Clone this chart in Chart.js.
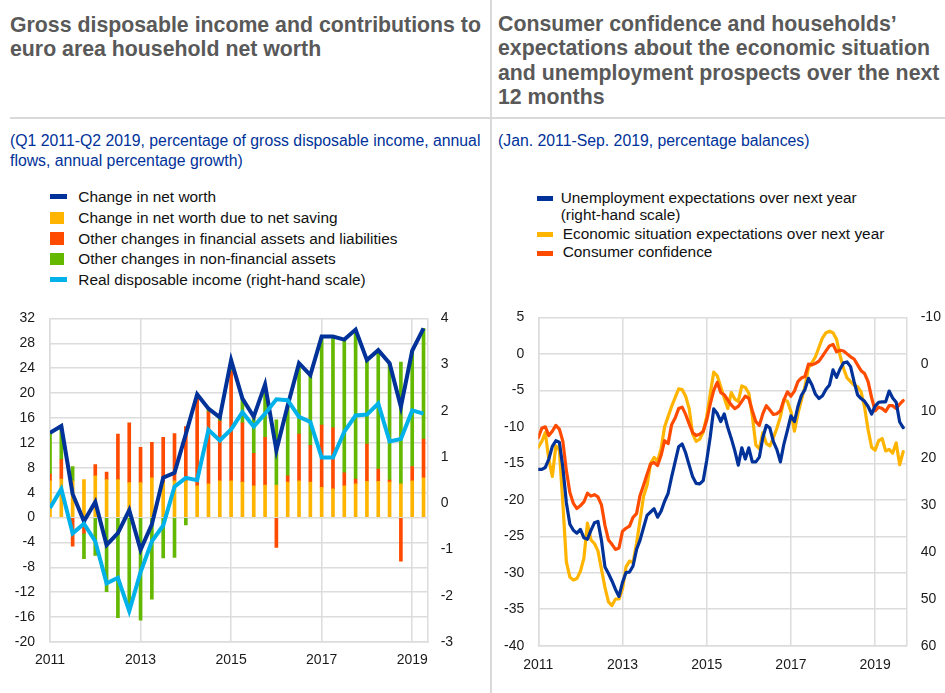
<!DOCTYPE html>
<html><head><meta charset="utf-8">
<script src="https://cdn.jsdelivr.net/npm/chart.js@4"></script>
<style>
html,body{margin:0;padding:0;background:#fff;width:945px;height:693px;overflow:hidden;font-family:"Liberation Sans",Arial,sans-serif;}
.abs{position:absolute;}
.title{font-weight:bold;font-size:21.3px;color:#595959;white-space:nowrap;}
.sub{font-size:15.8px;color:#003299;line-height:20px;white-space:nowrap;}
.leg{font-size:15.4px;color:#111;white-space:nowrap;line-height:20px;}
.mk{position:absolute;}
</style></head>
<body>
<div class="abs" style="left:490px;top:0;width:2px;height:693px;background:#d9d9d9"></div>
<div class="abs" style="left:10px;top:117px;width:480px;height:2px;background:#d9d9d9"></div>
<div class="abs" style="left:492px;top:117px;width:453px;height:2px;background:#d9d9d9"></div>

<div class="abs title" style="left:10px;top:14px;line-height:23.5px">Gross disposable income and contributions to<br>euro area household net worth</div>
<div class="abs title" style="left:498px;top:12px;line-height:24.4px">Consumer confidence and households’<br>expectations about the economic situation<br>and unemployment prospects over the next<br>12 months</div>

<div class="abs sub" style="left:10px;top:131px">(Q1 2011-Q2 2019, percentage of gross disposable income, annual<br>flows, annual percentage growth)</div>
<div class="abs sub" style="left:498px;top:131px">(Jan. 2011-Sep. 2019, percentage balances)</div>

<!-- left legend -->
<div class="mk" style="left:50px;top:194px;width:16.5px;height:5px;background:#003299"></div>
<div class="mk" style="left:50px;top:211.5px;width:14px;height:12.5px;background:#ffb400"></div>
<div class="mk" style="left:50px;top:232.3px;width:14px;height:12.5px;background:#ff4b00"></div>
<div class="mk" style="left:50px;top:252.8px;width:14px;height:12.5px;background:#65b800"></div>
<div class="mk" style="left:50px;top:276.5px;width:16.5px;height:5px;background:#00b1ea"></div>
<div class="abs leg" style="left:78.3px;top:186.5px">Change in net worth</div>
<div class="abs leg" style="left:78.3px;top:207.5px">Change in net worth due to net saving</div>
<div class="abs leg" style="left:78.3px;top:228.5px">Other changes in financial assets and liabilities</div>
<div class="abs leg" style="left:78.3px;top:249px">Other changes in non-financial assets</div>
<div class="abs leg" style="left:78.3px;top:269.5px">Real disposable income (right-hand scale)</div>

<!-- right legend -->
<div class="mk" style="left:536.7px;top:195.7px;width:16px;height:5px;background:#003299"></div>
<div class="mk" style="left:536.7px;top:232.3px;width:16.5px;height:5px;background:#ffb400"></div>
<div class="mk" style="left:536.7px;top:250.7px;width:16.5px;height:5px;background:#ff4b00"></div>
<div class="abs leg" style="left:560.7px;top:190px;line-height:16.7px">Unemployment expectations over next year<br>(right-hand scale)</div>
<div class="abs leg" style="left:562.7px;top:224px">Economic situation expectations over next year</div>
<div class="abs leg" style="left:562.7px;top:242px">Consumer confidence</div>

<canvas id="c1" class="abs" width="490" height="398" style="left:0;top:295px;width:490px;height:398px"></canvas>
<canvas id="c2" class="abs" width="455" height="398" style="left:490px;top:295px;width:455px;height:398px"></canvas>

<script>
// ---------- Left chart data (quarterly) ----------
const quarters = ['2011Q1','2011Q2','2011Q3','2011Q4','2012Q1','2012Q2','2012Q3','2012Q4',
  '2013Q1','2013Q2','2013Q3','2013Q4','2014Q1','2014Q2','2014Q3','2014Q4',
  '2015Q1','2015Q2','2015Q3','2015Q4','2016Q1','2016Q2','2016Q3','2016Q4',
  '2017Q1','2017Q2','2017Q3','2017Q4','2018Q1','2018Q2','2018Q3','2018Q4',
  '2019Q1','2019Q2'];
const netWorth = [13.6, 14.7, 3.8, -0.6, 2.5, -4.4, -2.5, 1.2, -5.2, -1.1, 6.4, 7.2, 13.4, 19.8, 17.5, 16.1,
  25.3, 19.1, 16.2, 21.4, 10.8, 18.0, 24.8, 22.9, 29.1, 29.1, 28.6, 30.2, 25.3, 26.9, 24.8, 17.8, 26.8, 30.4];
const netSaving = [5.9, 6.2, 5.9, 6.1, 6.7, 6.1, 6.1, 5.6, 5.6, 6.4, 5.6, 5.9, 5.9, 5.1, 5.4, 5.9,
  5.9, 5.7, 5.1, 5.2, 5.2, 5.7, 5.9, 5.7, 4.85, 4.6, 5.1, 5.4, 5.8, 5.8, 5.7, 5.4, 5.9, 6.4];
const otherFinancial = [1.1, 3.1, -4.6, -2.5, 1.8, 1.2, 7.3, 9.6, 5.7, 5.7, 7.3, 7.6, 8.7, 14.0, 11.6, 9.6,
  17.6, 9.5, 5.2, 7.7, -4.8, 1.0, 7.5, 5.9, 10.0, 9.8, 2.1, 0.8, 6.0, 2.0, 0.3, -7.0, 2.3, 6.2];
const nonFinancial = [6.6, 5.4, 2.3, -4.1, -6.1, -11.9, -16.1, -14.0, -16.5, -13.1, -6.5, -6.4, -1.2, 0.7, 0.5, 0.6,
  1.8, 3.9, 5.9, 8.2, 10.5, 11.3, 11.4, 11.3, 14.2, 14.6, 21.4, 24.0, 13.5, 19.1, 18.8, 19.6, 18.6, 17.8];
const realIncome = [-0.1, 0.31, -0.65, -0.44, -0.82, -1.73, -1.61, -2.33, -1.49, -0.82, -0.48, 0.36, 0.55, 0.5, 1.59, 1.36,
  1.6, 1.97, 1.66, 1.94, 2.25, 2.23, 1.87, 1.76, 0.99, 0.99, 1.55, 1.90, 1.92, 2.16, 1.34, 1.39, 2.01, 1.94];
const yearTicks = [2011, 2013, 2015, 2017, 2019];

// ---------- Right chart data (monthly, Jan 2011 - Sep 2019) ----------
const monthNames = ['Jan','Feb','Mar','Apr','May','Jun','Jul','Aug','Sep','Oct','Nov','Dec'];
const months = Array.from({length: 105}, (_, i) => monthNames[i % 12] + ' ' + (2011 + Math.floor(i / 12)));
const unemployment = [22.4, 22.4, 22.0, 20.2, 17.5, 16.3, 16.6, 22.0, 29.5, 34.1, 35.4, 36.0,
  35.2, 37.0, 37.3, 35.4, 33.8, 33.5, 37.5, 43.2, 44.6, 46.2, 48.0, 49.5,
  46.5, 44.4, 44.3, 43.0, 39.5, 37.5, 34.8, 32.2, 31.5, 30.8, 32.6, 31.3,
  29.2, 27.5, 24.0, 20.8, 17.6, 17.0, 18.9, 21.5, 24.0, 25.4, 25.5, 24.8,
  20.5, 15.5, 9.5, 10.5, 12.2, 10.6, 13.5, 15.8, 18.4, 21.5, 17.8, 20.2,
  17.8, 20.8, 20.8, 19.8, 15.6, 13.0, 13.6, 16.5, 18.2, 20.8, 17.0, 14.1,
  11.0, 12.2, 9.0, 6.6, 5.4, 3.0, 4.4, 6.4, 7.3, 6.7, 5.3, 4.4,
  1.2, 2.8, 1.0, -0.3, -0.5, 0.5, 3.7, 6.5, 7.3, 7.9, 9.0, 10.6,
  8.9, 8.1, 8.0, 8.0, 5.7, 7.2, 8.1, 12.3, 13.5];
const economicSituation = [-12.8, -12.0, -10.8, -14.5, -16.8, -12.6, -13.2, -20.5, -28.5, -30.6, -31.0, -30.8,
  -29.8, -28.0, -23.2, -25.5, -26.0, -27.0, -29.5, -32.0, -34.0, -34.5, -33.6, -33.6,
  -32.2, -29.2, -28.4, -28.6, -26.0, -22.8, -19.5, -18.0, -15.0, -14.2, -14.7, -13.0,
  -10.0, -8.6, -7.2, -6.0, -4.8, -4.9, -5.8, -7.5, -11.0, -12.0, -11.7, -10.7,
  -8.6, -5.5, -2.5, -3.0, -4.5, -6.0, -7.5, -5.3, -6.2, -6.5, -4.4, -4.6,
  -5.4, -8.5, -12.5, -13.0, -10.8, -12.3, -12.6, -11.5, -10.2, -8.6, -6.3, -6.5,
  -7.9, -10.6, -8.2, -6.3, -4.5, -1.9, -1.2, -0.4, 0.9, 2.2, 2.9, 3.1,
  2.9, 2.0, -0.2, -2.0, -3.3, -3.8, -4.3, -4.5, -5.2, -7.3, -10.4, -12.8,
  -13.2, -11.9, -11.6, -13.3, -13.1, -13.6, -12.2, -15.2, -13.4];
const consumerConfidence = [-11.5, -10.2, -10.0, -11.2, -10.6, -9.8, -10.3, -12.0, -16.0, -19.0, -20.5, -21.2,
  -20.8, -20.3, -19.1, -19.5, -19.3, -19.6, -20.7, -23.5, -25.5, -26.1, -26.8, -26.6,
  -24.3, -23.9, -23.6, -22.4, -21.9, -19.4, -18.0, -16.5, -15.1, -14.9, -15.3, -13.9,
  -11.9, -12.3, -9.7, -8.8, -7.5, -7.3, -8.3, -9.6, -10.8, -11.2, -11.0, -10.6,
  -9.1, -6.9, -5.0, -3.9, -5.3, -5.6, -6.3, -7.0, -7.5, -7.2, -6.5, -5.8,
  -6.1, -7.8, -9.3, -9.8, -8.2, -7.1, -7.7, -8.3, -8.2, -7.8, -6.3, -5.2,
  -5.8, -5.1, -3.8, -3.3, -3.1, -1.4, -1.5, -1.3, -1.0, -0.3, 0.4, 1.1,
  1.3, 0.3, 0.5, 0.4, 0.0, -0.4, -0.7, -1.5, -2.3, -2.7, -3.8, -6.0,
  -7.8, -7.3, -7.5, -7.9, -7.1, -7.1, -7.5, -6.9, -6.4];

// ---------- helpers ----------
const qx = q => +q.slice(0, 4) + (+q[5] - 1) / 4;
const qPts = arr => arr.map((v, i) => ({x: qx(quarters[i]), y: v}));
const mPts = arr => arr.map((v, i) => ({x: 2011 + months.indexOf(months[i]) / 12, y: v}));

Chart.defaults.font.family = '"Liberation Sans", Arial, sans-serif';
Chart.defaults.font.size = 14;
Chart.defaults.color = '#1a1a1a';
const GRID = '#dcdcdc';
const yearTickBuilder = s => { s.ticks = yearTicks.map(v => ({value: v})); };

new Chart(document.getElementById('c1'), {
  type: 'bar',
  data: {
    datasets: [
      {type: 'line', label: 'Change in net worth', data: qPts(netWorth), borderColor: '#003299', backgroundColor: '#003299',
        borderWidth: 4, pointRadius: 0, tension: 0, yAxisID: 'y', stack: 'nw', order: 1},
      {type: 'line', label: 'Real disposable income (right-hand scale)', data: qPts(realIncome), borderColor: '#00b1ea', backgroundColor: '#00b1ea',
        borderWidth: 4, pointRadius: 0, tension: 0, yAxisID: 'y1', order: 0},
      {label: 'Change in net worth due to net saving', data: qPts(netSaving), backgroundColor: '#ffb400', stack: 'c', yAxisID: 'y', order: 2, barThickness: 3},
      {label: 'Other changes in financial assets and liabilities', data: qPts(otherFinancial), backgroundColor: '#ff4b00', stack: 'c', yAxisID: 'y', order: 2, barThickness: 3},
      {label: 'Other changes in non-financial assets', data: qPts(nonFinancial), backgroundColor: '#65b800', stack: 'c', yAxisID: 'y', order: 2, barThickness: 3}
    ]
  },
  options: {
    responsive: false, animation: false, events: [],
    layout: {padding: {top: 11.6, left: 0, right: 0, bottom: 0}},
    plugins: {legend: {display: false}, tooltip: {enabled: false}},
    scales: {
      x: {type: 'linear', stacked: true, offset: false, min: 2011, max: 2019 + 1/3, afterBuildTicks: yearTickBuilder,
        grid: {color: GRID, lineWidth: 1.5, drawTicks: false, offset: false}, border: {color: GRID, width: 1.5},
        ticks: {padding: 10, maxRotation: 0, callback: v => String(v)}, afterFit: s => { s.height = 51; }},
      y: {position: 'left', stacked: true, min: -20, max: 32, ticks: {stepSize: 4, padding: 15},
        grid: {color: GRID, lineWidth: 1.5, drawTicks: false}, border: {color: GRID, width: 1.5},
        afterFit: s => { s.width = 50; }},
      y1: {position: 'right', min: -3, max: 4, ticks: {stepSize: 1, padding: 13.4},
        grid: {display: false, drawTicks: false}, border: {display: true, color: GRID, width: 1.5},
        afterFit: s => { s.width = 62.7; }}
    }
  }
});

new Chart(document.getElementById('c2'), {
  type: 'line',
  data: {
    datasets: [
      {label: 'Unemployment expectations over next year (right-hand scale)', data: mPts(unemployment), borderColor: '#003299', yAxisID: 'y1', order: 0},
      {label: 'Consumer confidence', data: mPts(consumerConfidence), borderColor: '#ff4b00', yAxisID: 'y', order: 1},
      {label: 'Economic situation expectations over next year', data: mPts(economicSituation), borderColor: '#ffb400', yAxisID: 'y', order: 2}
    ]
  },
  options: {
    responsive: false, animation: false, events: [],
    layout: {padding: {top: 10.5, left: 0, right: 0, bottom: 0}},
    elements: {point: {radius: 0}, line: {borderWidth: 3.2, tension: 0, borderJoinStyle: 'round', borderCapStyle: 'round'}},
    plugins: {legend: {display: false}, tooltip: {enabled: false}},
    scales: {
      x: {type: 'linear', min: 2011, max: 2019.75, afterBuildTicks: yearTickBuilder,
        grid: {color: GRID, lineWidth: 1.5, drawTicks: false}, border: {color: GRID, width: 1.5},
        ticks: {padding: 11, maxRotation: 0, callback: v => String(v)}, afterFit: s => { s.height = 47.3; }},
      y: {position: 'left', min: -40, max: 5, ticks: {stepSize: 5, padding: 14},
        grid: {color: GRID, lineWidth: 1.5, drawTicks: false}, border: {color: GRID, width: 1.5},
        afterFit: s => { s.width = 48.3; }},
      y1: {position: 'right', reverse: true, min: -10, max: 60, ticks: {stepSize: 10, padding: 14},
        grid: {display: false, drawTicks: false}, border: {display: true, color: GRID, width: 1.5},
        afterFit: s => { s.width = 38.3; }}
    }
  }
});
</script>
</body></html>
